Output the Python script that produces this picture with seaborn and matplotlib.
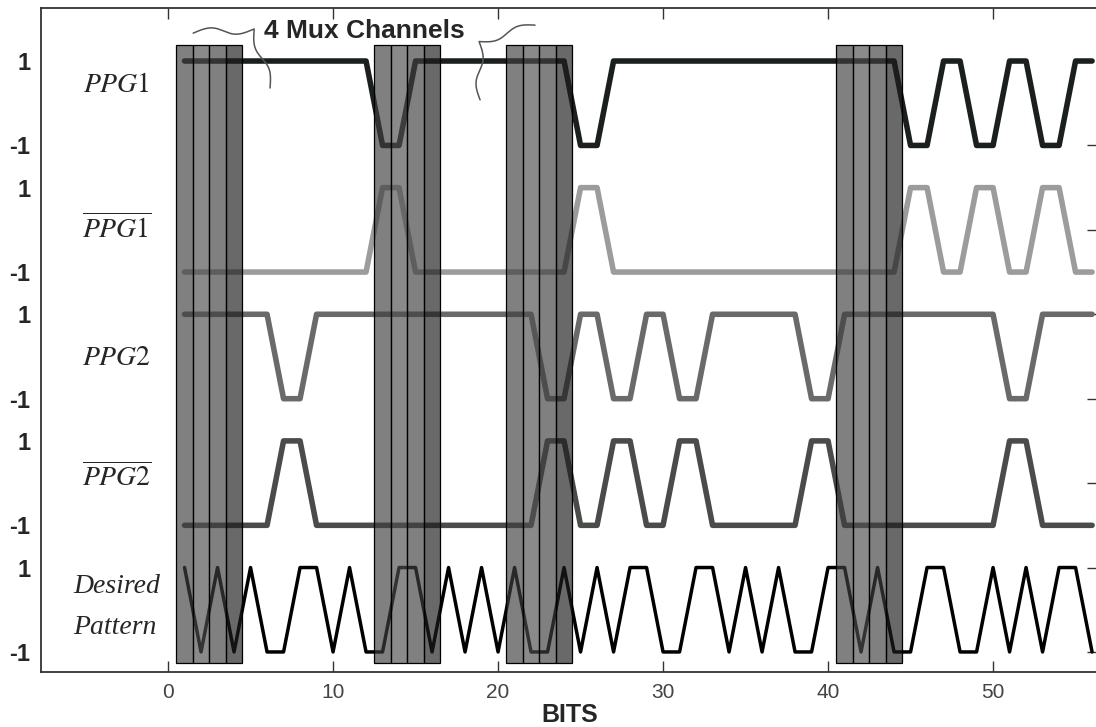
import numpy as np
import pandas as pd
import matplotlib.pyplot as plt
import seaborn as sns
from matplotlib.patches import Rectangle

# ---------------------------------------------------------
# 1. 데이터 (비트별 신호 레벨, 그림에서 읽은 값)
# ---------------------------------------------------------
bits = list(range(1, 57))

ppg1 = [1, 1, 1, 1, 1, 1, 1, 1, 1, 1, 1, 1, -1, -1, 1, 1, 1, 1, 1, 1,
        1, 1, 1, 1, -1, -1, 1, 1, 1, 1, 1, 1, 1, 1, 1, 1, 1, 1, 1, 1,
        1, 1, 1, 1, -1, -1, 1, 1, -1, -1, 1, 1, -1, -1, 1, 1]
ppg1_bar = [-1, -1, -1, -1, -1, -1, -1, -1, -1, -1, -1, -1, 1, 1, -1, -1, -1, -1, -1, -1,
            -1, -1, -1, -1, 1, 1, -1, -1, -1, -1, -1, -1, -1, -1, -1, -1, -1, -1, -1, -1,
            -1, -1, -1, -1, 1, 1, -1, -1, 1, 1, -1, -1, 1, 1, -1, -1]
ppg2 = [1, 1, 1, 1, 1, 1, -1, -1, 1, 1, 1, 1, 1, 1, 1, 1, 1, 1, 1, 1,
        1, 1, -1, -1, 1, 1, -1, -1, 1, 1, -1, -1, 1, 1, 1, 1, 1, 1, -1, -1,
        1, 1, 1, 1, 1, 1, 1, 1, 1, 1, -1, -1, 1, 1, 1, 1]
ppg2_bar = [-1, -1, -1, -1, -1, -1, 1, 1, -1, -1, -1, -1, -1, -1, -1, -1, -1, -1, -1, -1,
            -1, -1, 1, 1, -1, -1, 1, 1, -1, -1, 1, 1, -1, -1, -1, -1, -1, -1, 1, 1,
            -1, -1, -1, -1, -1, -1, -1, -1, -1, -1, 1, 1, -1, -1, -1, -1]
desired = [1, -1, 1, -1, 1, -1, -1, 1, 1, -1, 1, -1, -1, 1, 1, -1, 1, -1, 1, -1,
           1, -1, -1, 1, -1, 1, -1, 1, 1, -1, -1, 1, 1, -1, 1, -1, 1, -1, -1, 1,
           1, -1, 1, -1, -1, 1, 1, -1, -1, 1, -1, 1, -1, 1, 1, -1]

signal_names = ["PPG1", "PPG1_bar", "PPG2", "PPG2_bar", "Desired"]
signal_values = [ppg1, ppg1_bar, ppg2, ppg2_bar, desired]
track_offsets = [12, 9, 6, 3, 0]
signal_colors = ["#1c201c", "#9c9c9c", "#6a6a6a", "#4a4c4a", "#000000"]
signal_widths = [4.0, 4.0, 4.0, 4.0, 2.5]

track_labels = [r"$PPG1$", r"$\overline{PPG1}$", r"$PPG\mathit{2}$",
                r"$\overline{PPG\mathit{2}}$"]
track_label_y = [12.42, 9.02, 5.96, 3.14]

ytick_pos = [-1, 1, 2, 4, 5, 7, 8, 10, 11, 13]
ytick_text = ["-1", "1"] * 5
xtick_pos = [0, 10, 20, 30, 40, 50]

# 멀티플렉서 채널 구간 (각 4비트)
mux_starts = [0.5, 12.5, 20.5, 40.5]
mux_shades = ["#3e3e3e", "#4e4e4e", "#3e3e3e", "#1c1c1c"]

# ---------------------------------------------------------
# 2. long-form 데이터프레임
# ---------------------------------------------------------
frames = []
for name, vals, off in zip(signal_names, signal_values, track_offsets):
    frames.append(pd.DataFrame({"bit": bits,
                                "level": np.array(vals) + off,
                                "signal": name}))
df = pd.concat(frames, ignore_index=True)

# ---------------------------------------------------------
# 3. 그리기
# ---------------------------------------------------------
sns.set_style("white")
plt.rcParams["font.family"] = ["Liberation Sans", "DejaVu Sans"]
plt.rcParams["mathtext.fontset"] = "stix"

fig = plt.figure(figsize=(10.96, 7.27), dpi=100)
ax = fig.add_axes([41 / 1096, 55 / 727, 1058 / 1096, 664 / 727])

for name, col, lw in zip(signal_names, signal_colors, signal_widths):
    sns.lineplot(data=df[df["signal"] == name], x="bit", y="level",
                 color=col, linewidth=lw, ax=ax, zorder=2)

# 반투명 채널 박스
for start in mux_starts:
    for i, shade in enumerate(mux_shades):
        ax.add_patch(Rectangle((start + i, -1.25), 1, 14.63, facecolor=shade,
                               edgecolor="none", alpha=0.66, zorder=3))
        ax.add_patch(Rectangle((start + i, -1.25), 1, 14.63, facecolor="none",
                               edgecolor="black", linewidth=0.9, zorder=3))

ax.set_xlim(-7.7, 56.42)
ax.set_ylim(-1.475, 14.256)

# 축 눈금
ax.set_xticks(xtick_pos)
ax.set_xticklabels([str(v) for v in xtick_pos], color="#444444", fontsize=15)
ax.tick_params(axis="x", which="major", direction="in", length=8, width=1,
               top=True, bottom=True, pad=8, color="#333333")
ax.set_yticks(ytick_pos)
ax.set_yticklabels(ytick_text, fontsize=17, fontweight="bold")
ax.tick_params(axis="y", which="major", left=False, right=False, pad=4)
ax.yaxis.remove_overlapping_locs = False
ax.set_yticks([-1, 1, 3, 5, 7, 9, 11], minor=True)
ax.tick_params(axis="y", which="minor", left=False, right=True,
               direction="in", length=9, width=1, color="#333333")

for sp in ax.spines.values():
    sp.set_color("#333333")
    sp.set_linewidth(1.3)

ax.set_xlabel("BITS", fontsize=18, fontweight="bold", labelpad=1)
ax.set_ylabel("")

# 신호 이름 라벨
for lab, y in zip(track_labels, track_label_y):
    ax.text(-3.1, y, lab, fontsize=20, ha="center", va="center")
ax.text(-3.1, 0.54, "Desired", fontsize=20, family="Liberation Serif",
        style="italic", ha="center", va="center")
ax.text(-3.2, -0.43, "Pattern", fontsize=20, family="Liberation Serif",
        style="italic", ha="center", va="center")

ax.text(11.9, 13.72, "4 Mux Channels", fontsize=19, fontweight="bold",
        ha="center", va="center")


# 중괄호 (화면 좌표에서 계산 후 데이터 좌표로 변환)
def draw_brace(p0, p1, tip, beta=16.0, n=301):
    to_disp = ax.transData.transform
    a, b, t = to_disp(p0), to_disp(p1), to_disp(tip)
    d = b - a
    L = np.hypot(*d)
    u = d / L
    nrm = np.array([-u[1], u[0]])
    depth = np.dot(t - (a + b) / 2, nrm)
    s = np.linspace(0, 1, n)
    half = s[: n // 2 + 1]
    prof = (1 / (1 + np.exp(-beta * (half - half[0])))
            + 1 / (1 + np.exp(-beta * (half - half[-1]))))
    prof = np.concatenate((prof, prof[-2::-1])) - 0.5
    pts = a + np.outer(s * L, u) + np.outer(prof * depth, nrm)
    pts = ax.transData.inverted().transform(pts)
    ax.plot(pts[:, 0], pts[:, 1], color="#555555", linewidth=1.1, zorder=4)


draw_brace((1.52, 13.66), (6.18, 12.36), (5.15, 13.78))
draw_brace((22.24, 13.85), (18.91, 12.08), (18.79, 13.43))

fig.savefig("out.png", dpi=100)
